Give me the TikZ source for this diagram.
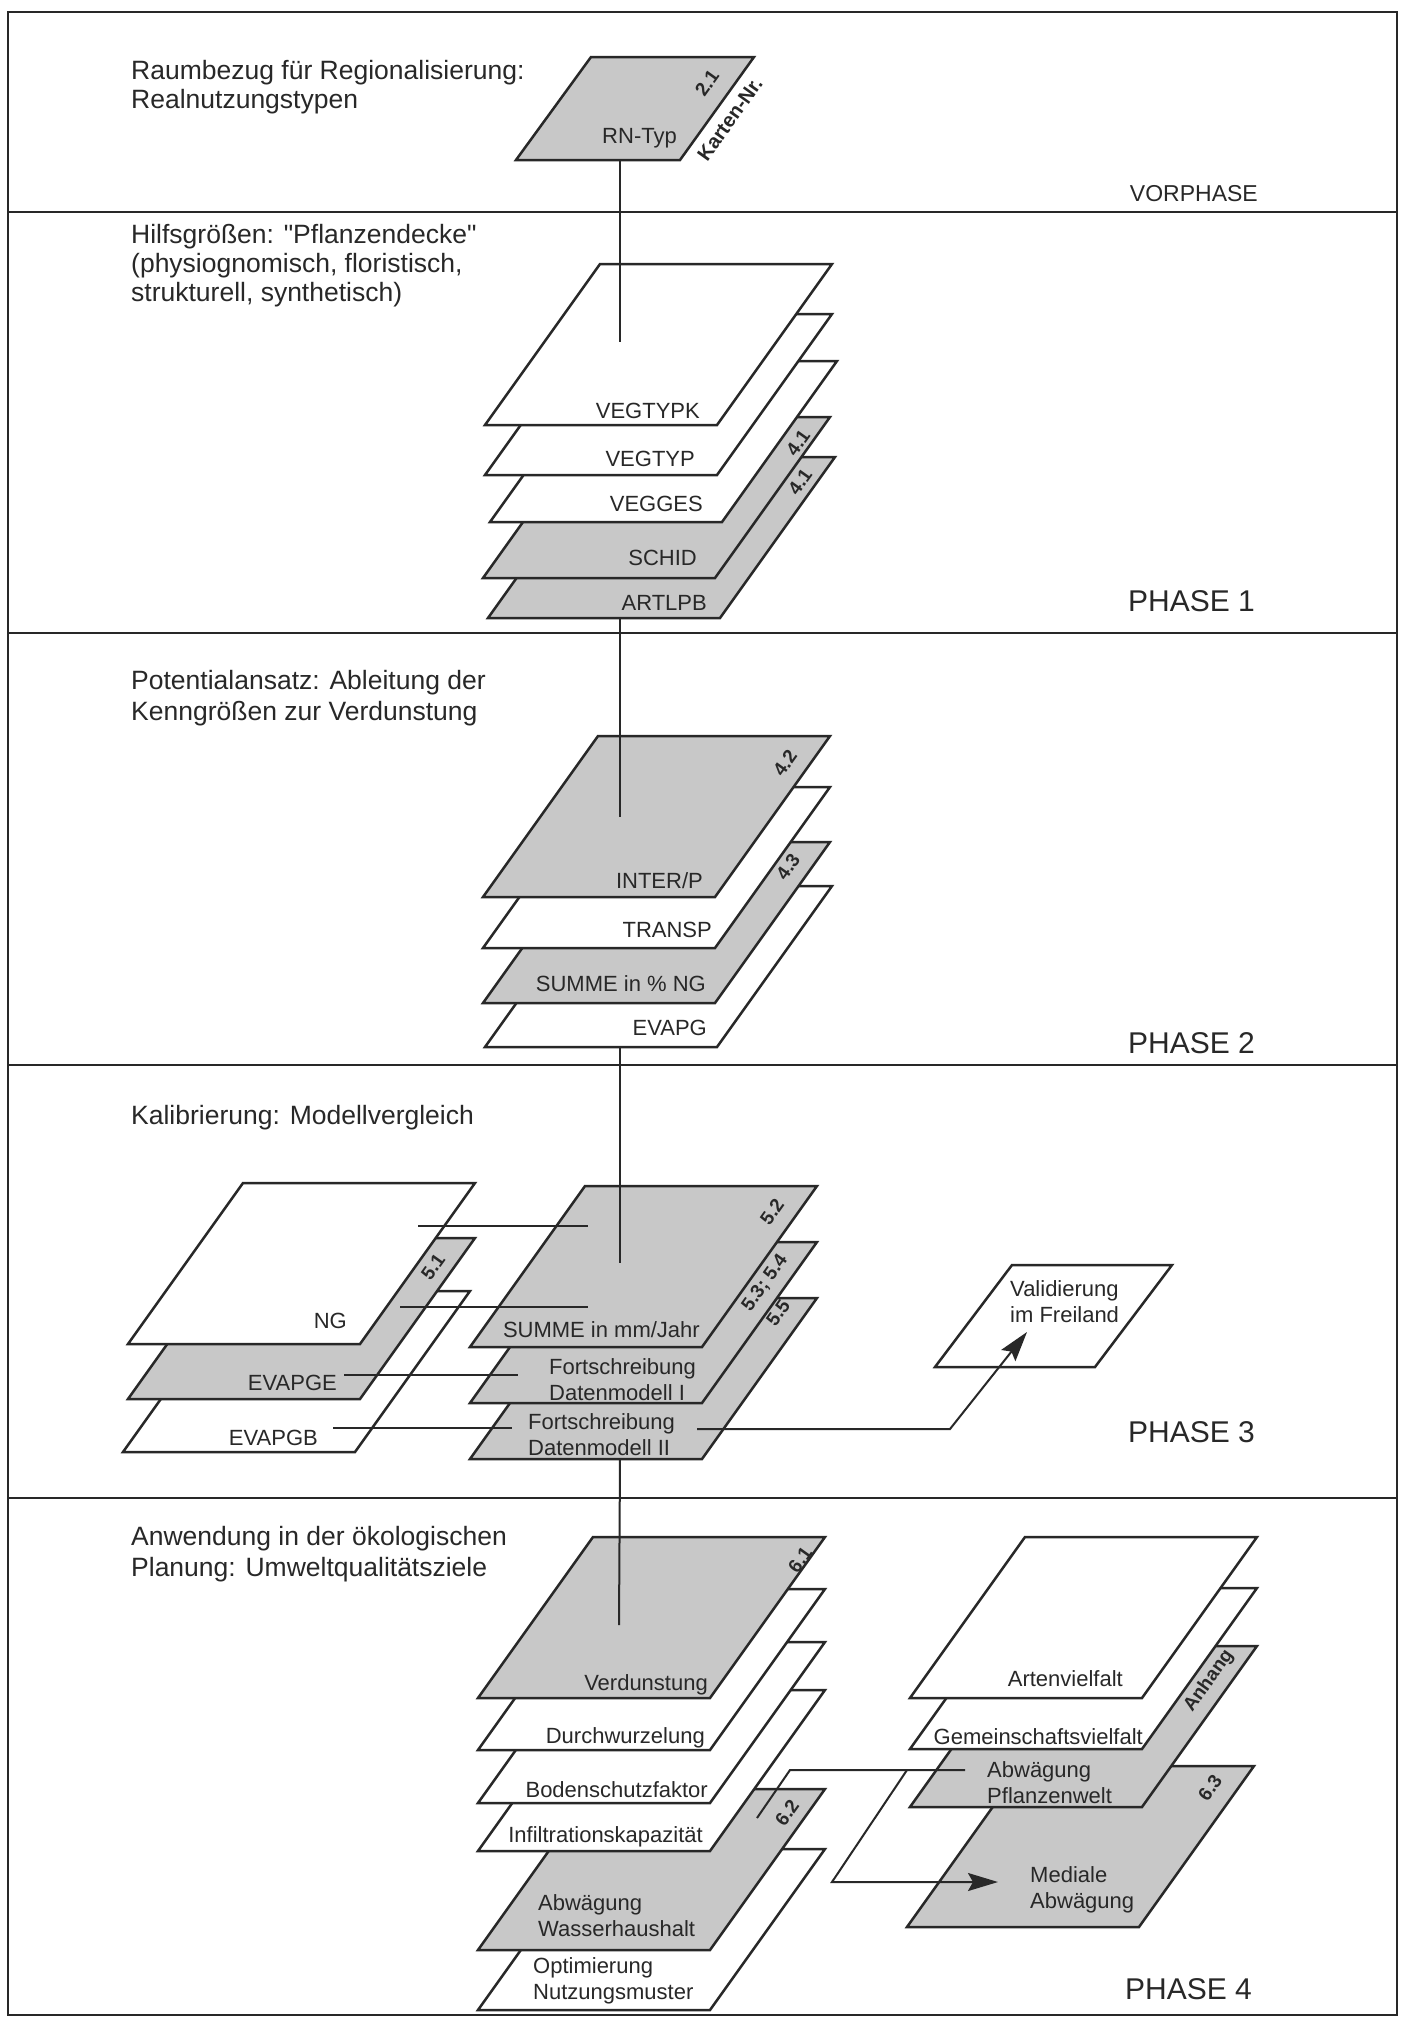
\documentclass[tikz,border=0pt]{standalone}
\usepackage{fontspec}
\setmainfont{Liberation Sans}[Ligatures=TeXOff]
\usetikzlibrary{arrows.meta}
\definecolor{ink}{RGB}{40,40,40}
\definecolor{halftone}{RGB}{200,200,200}
\newcommand{\lyr}[3]{% style, bottom-left x, bottom-left y
  \filldraw[layerline,#1] (#2,#3) -- ++(232,0) -- ++(115,-161) -- ++(-232,0) -- cycle;}
\tikzset{
  layerline/.style={draw=ink, line width=2.5pt, line join=miter},
  wl/.style={fill=white},
  gl/.style={fill=halftone},
  frame/.style={draw=ink, line width=2pt},
  lbl/.style={font=\fontsize{22}{26}\selectfont, text=ink, inner sep=0pt},
  hdr/.style={font=\fontsize{26.5}{31}\selectfont, text=ink, inner sep=0pt, anchor=base west},
  phs/.style={font=\fontsize{30}{34}\selectfont, text=ink, inner sep=0pt, anchor=base east},
  num/.style={font=\bfseries\fontsize{19}{22}\selectfont, text=ink, rotate=54.5, inner sep=0pt},
  conn/.style={draw=ink, line width=2pt},
  arr/.style={-{Stealth[length=30pt,width=18pt,inset=5pt]}},
}
\begin{document}
\begin{tikzpicture}[x=1pt,y=-1pt]
\useasboundingbox (0,0) rectangle (1403,2019);
\fill[white] (0,0) rectangle (1403,2019);
% frame and phase separators
\draw[frame] (8,12) rectangle (1397,2015);
\foreach \yy in {212,633,1065,1498} \draw[frame] (8,\yy) -- (1397,\yy);

% ---------- headers ----------
\node[hdr] (h0a) at (131,79) {Raumbezug für Regionalisierung:};
\node[hdr] (h0b) at (131,108) {Realnutzungstypen};
\node[hdr] (h1a) at (131,243) {Hilfsgrößen: "Pflanzendecke"};
\node[hdr] (h1b) at (131,272) {(physiognomisch, floristisch,};
\node[hdr] (h1c) at (131,301) {strukturell, synthetisch)};
\node[hdr] (h2a) at (131,689) {Potentialansatz: Ableitung der};
\node[hdr] (h2b) at (131,720) {Kenngrößen zur Verdunstung};
\node[hdr] (h3a) at (131,1124) {Kalibrierung: Modellvergleich};
\node[hdr] (h4a) at (131,1545) {Anwendung in der ökologischen};
\node[hdr] (h4b) at (131,1576) {Planung: Umweltqualitätsziele};

% ---------- phase labels ----------
\node[phs, font=\fontsize{23}{28}\selectfont] (p0) at (1258,201) {VORPHASE};
\node[phs] (p1) at (1255,611) {PHASE 1};
\node[phs] (p2) at (1255,1053) {PHASE 2};
\node[phs] (p3) at (1255,1442) {PHASE 3};
\node[phs] (p4) at (1252,1999) {PHASE 4};

% ---------- Vorphase ----------
\filldraw[layerline,gl] (516,160) -- (680,160) -- (754,57) -- (591,57) -- cycle;
\node[lbl, anchor=base east] (tRN) at (677,143) {RN-Typ};
\node[num] (n21) at (707,83) {2.1};
\node[num, font=\bfseries\fontsize{20}{22}\selectfont] (kn) at (730,119) {Karten-Nr.};

% ---------- Phase 1 stack ----------
\lyr{gl}{488}{618}
\lyr{gl}{483}{578}
\lyr{wl}{490}{522}
\lyr{wl}{485}{475}
\lyr{wl}{485}{425}
\node[lbl, anchor=base east] (tVEGTYPK) at (700,418) {VEGTYPK};
\node[lbl, anchor=base east] (tVEGTYP) at (695,466) {VEGTYP};
\node[lbl, anchor=base east] (tVEGGES) at (703,511) {VEGGES};
\node[lbl, anchor=base east] (tSCHID) at (697,565) {SCHID};
\node[lbl, anchor=base east] (tARTLPB) at (707,610) {ARTLPB};
\node[num] (n41a) at (798,443) {4.1};
\node[num] (n41b) at (800,482) {4.1};

% ---------- Phase 2 stack ----------
\lyr{wl}{485}{1047}
\lyr{gl}{483}{1003}
\lyr{wl}{483}{948}
\lyr{gl}{483}{897}
\node[lbl, anchor=base east] (tINTER) at (703,888) {INTER/P};
\node[lbl, anchor=base east] (tTRANSP) at (712,937) {TRANSP};
\node[lbl, anchor=base east] (tSUMNG) at (706,991) {SUMME in \% NG};
\node[lbl, anchor=base east] (tEVAPG) at (707,1035) {EVAPG};
\node[num] (n42) at (785,763) {4.2};
\node[num] (n43) at (788,867) {4.3};

% ---------- Phase 3 left stack ----------
\lyr{wl}{123}{1452}
\lyr{gl}{128}{1399}
\lyr{wl}{128}{1344}
\node[lbl, anchor=base east] (tNG) at (347,1328) {NG};
\node[lbl, anchor=base east] (tEVAPGE) at (337,1390) {EVAPGE};
\node[lbl, anchor=base east] (tEVAPGB) at (318,1445) {EVAPGB};
\node[num] (n51) at (433,1267) {5.1};

% ---------- Phase 3 right stack ----------
\lyr{gl}{470}{1459}
\lyr{gl}{470}{1403}
\lyr{gl}{470}{1347}
\node[lbl, anchor=base east] (tSUMMM) at (700,1337) {SUMME in mm/Jahr};
\node[lbl, anchor=west, align=left] (tFort1) at (549,1380) {Fortschreibung\\Datenmodell I};
\node[lbl, anchor=west, align=left] (tFort2) at (528,1435) {Fortschreibung\\Datenmodell II};
\node[num] (n52) at (772,1212) {5.2};
\node[num] (n534) at (765,1283) {5.3; 5.4};
\node[num] (n55) at (778,1313) {5.5};

% Validierung
\filldraw[layerline,wl] (935,1367) -- (1095,1367) -- (1172,1265) -- (1012,1265) -- cycle;
\node[lbl, anchor=west, align=left] (tVal) at (1010,1302) {Validierung\\im Freiland};

% ---------- Phase 4 left stack ----------
\lyr{wl}{478}{2010}
\lyr{gl}{478}{1950}
\lyr{wl}{478}{1851}
\lyr{wl}{478}{1803}
\lyr{wl}{478}{1750}
\lyr{gl}{478}{1698}
\node[lbl, anchor=base east] (tVerd) at (708,1690) {Verdunstung};
\node[lbl, anchor=base east] (tDurch) at (705,1743) {Durchwurzelung};
\node[lbl, anchor=base east] (tBoden) at (708,1797) {Bodenschutzfaktor};
\node[lbl, anchor=base east] (tInfil) at (703,1842) {Infiltrationskapazität};
\node[lbl, anchor=west, align=left] (tAbwW) at (538,1916) {Abwägung\\Wasserhaushalt};
\node[lbl, anchor=west, align=left] (tOpt) at (533,1981) {Optimierung\\Nutzungsmuster};
\node[num] (n61) at (800,1560) {6.1};
\node[num] (n62) at (787,1813) {6.2};

% ---------- Phase 4 right stack ----------
\lyr{gl}{907}{1927}
\lyr{gl}{910}{1807}
\lyr{wl}{910}{1749}
\lyr{wl}{910}{1698}
\node[lbl, anchor=base east] (tArten) at (1123,1686) {Artenvielfalt};
\node[lbl, anchor=base east] (tGemein) at (1143,1744) {Gemeinschaftsvielfalt};
\node[lbl, anchor=west, align=left] (tAbwP) at (987,1783) {Abwägung\\Pflanzenwelt};
\node[lbl, anchor=west, align=left] (tMed) at (1030,1890) {Mediale\\Abwägung};
\node[num] (nanh) at (1209,1681) {Anhang};
\node[num] (n63) at (1210,1788) {6.3};

% ---------- connector coordinates ----------
\coordinate (rnB) at (620,160);
\coordinate (v1In) at (620,342);
\coordinate (v1Out) at (620,618);
\coordinate (v2In) at (620,817);
\coordinate (v2Out) at (620,1047);
\coordinate (v3In) at (620,1263);
\coordinate (v3Out) at (620,1459);
\coordinate (v4In) at (619,1625);

\coordinate (ngA) at (418,1226);   \coordinate (smA) at (588,1226);
\coordinate (ngB) at (400,1307);   \coordinate (smB) at (588,1307);
\coordinate (geA) at (344,1375);   \coordinate (f1A) at (518,1375);
\coordinate (gbA) at (333,1428);   \coordinate (f2A) at (512,1428);
\coordinate (f2B) at (697,1429);   \coordinate (valK) at (950,1429);
\coordinate (valT) at (1027,1332);

\coordinate (awS) at (757,1818);   \coordinate (awK) at (790,1770);
\coordinate (apE) at (965,1770);   \coordinate (brS) at (907,1770);
\coordinate (brK) at (832,1882);   \coordinate (mdT) at (998,1882);

% ---------- connectors ----------
\draw[conn] (rnB) -- (v1In);
\draw[conn] (v1Out) -- (v2In);
\draw[conn] (v2Out) -- (v3In);
\draw[conn] (v3Out) -- (v4In);
\draw[conn] (ngA) -- (smA);
\draw[conn] (ngB) -- (smB);
\draw[conn] (geA) -- (f1A);
\draw[conn] (gbA) -- (f2A);
\draw[conn, arr] (f2B) -- (valK) -- (valT);
\draw[conn] (awS) -- (awK) -- (apE);
\draw[conn, arr] (brS) -- (brK) -- (mdT);
\end{tikzpicture}
\end{document}
